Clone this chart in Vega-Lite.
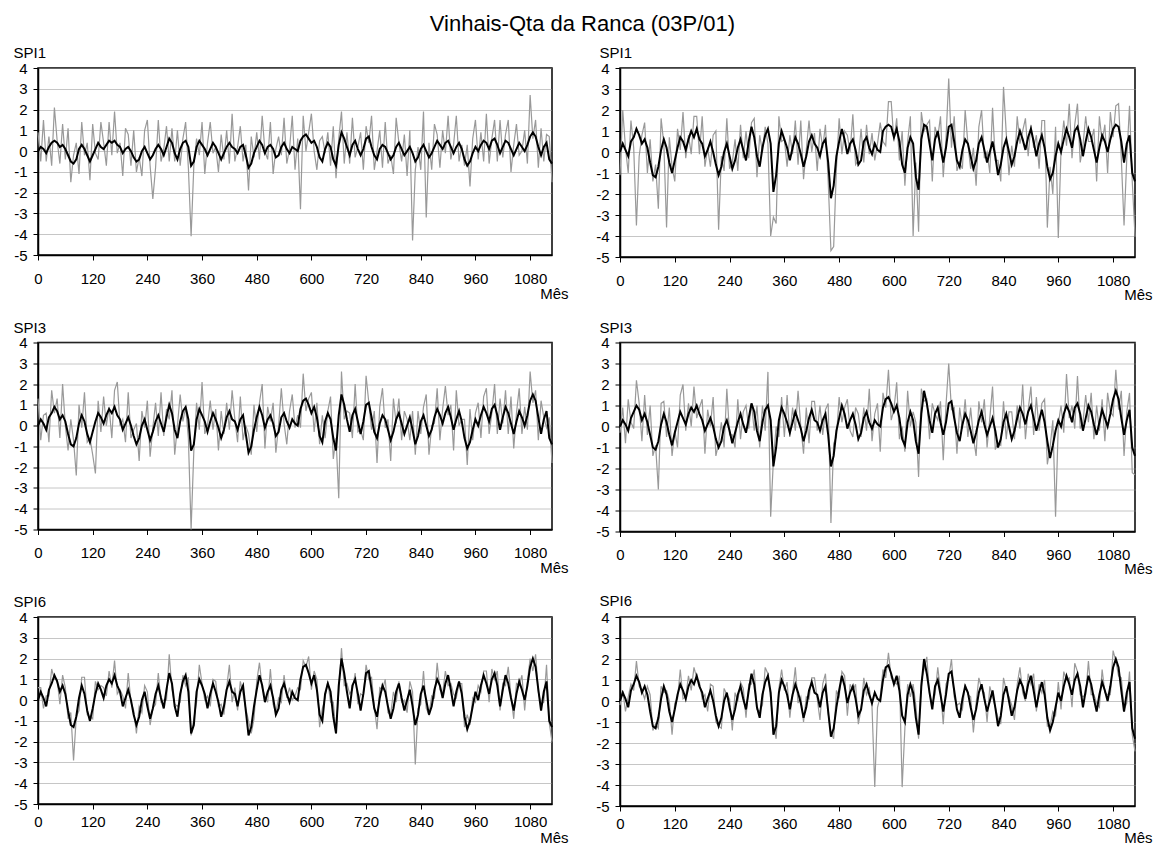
{
"$schema":"https://vega.github.io/schema/vega-lite/v6.json",
"padding":{"left":12,"top":13,"right":0,"bottom":0},
"background":"white",
"title":{"text":"Vinhais-Qta da Ranca (03P/01)","font":"Liberation Sans","fontSize":22,"fontWeight":"normal","color":"black","anchor":"middle","offset":8},
"data":{"values":[
{"m":0,"a":0.9,"b":0,"c":-1.1,"d":0,"e":1.3,"f":0,"g":-0.3,"h":0,"i":0.6,"j":0,"k":-0.2,"l":0},
{"m":6,"a":-0.5,"b":0.2,"c":2.0,"d":0.4,"e":-0.7,"f":0.3,"g":0.9,"h":0.3,"i":0.6,"j":0.4,"k":0.5,"l":0.4},
{"m":12,"a":1.5,"b":0.1,"c":0.2,"d":0.1,"e":0.5,"f":0.1,"g":-0.8,"h":0.1,"i":-0.4,"j":0.1,"k":-0.5,"l":0.1},
{"m":18,"a":-0.5,"b":-0.1,"c":-1.0,"d":-0.2,"e":0.6,"f":-0.2,"g":1.3,"h":-0.2,"i":0.2,"j":-0.3,"k":0.2,"l":-0.3},
{"m":24,"a":0.7,"b":0.2,"c":1.5,"d":0.5,"e":-0.8,"f":0.4,"g":0.2,"h":0.4,"i":0.2,"j":0.5,"k":0.8,"l":0.5},
{"m":30,"a":-0.7,"b":0.4,"c":0.2,"d":0.7,"e":1.7,"f":0.6,"g":-0.1,"h":0.7,"i":1.5,"j":0.8,"k":0.5,"l":0.8},
{"m":36,"a":2.1,"b":0.5,"c":-3.5,"d":1.1,"e":0.6,"f":0.9,"g":2.2,"h":1.0,"i":1.0,"j":1.2,"k":1.9,"l":1.2},
{"m":42,"a":0.5,"b":0.4,"c":-0.2,"d":0.8,"e":1.3,"f":0.7,"g":1.1,"h":0.8,"i":1.0,"j":0.9,"k":0.7,"l":0.9},
{"m":48,"a":-0.6,"b":0.2,"c":0.8,"d":0.4,"e":-0.6,"f":0.3,"g":-0.7,"h":0.3,"i":-0.2,"j":0.4,"k":0.5,"l":0.4},
{"m":54,"a":1.3,"b":0.3,"c":1.4,"d":0.6,"e":2.0,"f":0.5,"g":1.5,"h":0.6,"i":1.2,"j":0.7,"k":0.1,"l":0.7},
{"m":60,"a":-0.4,"b":0.1,"c":-1.0,"d":0.2,"e":0.0,"f":0.2,"g":-0.4,"h":0.2,"i":0.6,"j":0.3,"k":0.7,"l":0.3},
{"m":66,"a":1.1,"b":-0.2,"c":0.6,"d":-0.5,"e":-1.2,"f":-0.4,"g":1.0,"h":-0.4,"i":-0.9,"j":-0.5,"k":0.3,"l":-0.5},
{"m":72,"a":-1.5,"b":-0.5,"c":-1.4,"d":-1.1,"e":0.3,"f":-0.9,"g":-1.4,"h":-1.0,"i":-0.6,"j":-1.2,"k":-1.4,"l":-1.2},
{"m":78,"a":-0.2,"b":-0.6,"c":-0.6,"d":-1.2,"e":-0.7,"f":-1.0,"g":-0.9,"h":-1.1,"i":-2.9,"j":-1.3,"k":-1.1,"l":-1.3},
{"m":84,"a":0.4,"b":-0.4,"c":-2.7,"d":-0.7,"e":-2.4,"f":-0.6,"g":-3.0,"h":-0.7,"i":-0.8,"j":-0.8,"k":-1.3,"l":-0.8},
{"m":90,"a":-1.1,"b":0.1,"c":1.6,"d":0.1,"e":1.0,"f":0.1,"g":1.1,"h":0.1,"i":-0.5,"j":0.1,"k":0.7,"l":0.1},
{"m":96,"a":1.4,"b":0.3,"c":0.4,"d":0.6,"e":-0.1,"f":0.5,"g":1.2,"h":0.6,"i":1.1,"j":0.7,"k":0.4,"l":0.7},
{"m":102,"a":-0.2,"b":0.1,"c":-3.6,"d":0.2,"e":1.6,"f":0.2,"g":-0.5,"h":0.2,"i":1.1,"j":0.3,"k":0.5,"l":0.3},
{"m":108,"a":0.4,"b":-0.2,"c":0.7,"d":-0.5,"e":-0.8,"f":-0.4,"g":0.9,"h":-0.4,"i":-0.7,"j":-0.5,"k":0.0,"l":-0.5},
{"m":114,"a":-1.4,"b":-0.5,"c":-0.7,"d":-1.0,"e":-0.6,"f":-0.8,"g":-1.4,"h":-0.9,"i":-0.8,"j":-1.0,"k":-1.6,"l":-1.0},
{"m":120,"a":1.3,"b":-0.2,"c":-1.4,"d":-0.4,"e":-1.4,"f":-0.3,"g":-0.2,"h":-0.3,"i":-0.9,"j":-0.4,"k":-0.1,"l":-0.4},
{"m":126,"a":-0.1,"b":0.1,"c":1.1,"d":0.2,"e":-2.3,"f":0.2,"g":-1.0,"h":0.2,"i":0.9,"j":0.3,"k":0.1,"l":0.3},
{"m":132,"a":-0.4,"b":0.4,"c":0.1,"d":0.7,"e":1.2,"f":0.6,"g":1.5,"h":0.7,"i":0.5,"j":0.8,"k":1.5,"l":0.8},
{"m":138,"a":1.4,"b":0.2,"c":1.9,"d":0.5,"e":-0.3,"f":0.4,"g":2.0,"h":0.4,"i":0.7,"j":0.5,"k":0.1,"l":0.5},
{"m":144,"a":0.4,"b":0.1,"c":-0.3,"d":0.1,"e":1.4,"f":0.1,"g":-0.2,"h":0.1,"i":0.6,"j":0.1,"k":0.2,"l":0.1},
{"m":150,"a":-0.7,"b":0.3,"c":0.8,"d":0.6,"e":0.0,"f":0.5,"g":1.1,"h":0.6,"i":0.2,"j":0.7,"k":1.2,"l":0.7},
{"m":156,"a":1.4,"b":0.5,"c":-0.1,"d":1.0,"e":0.9,"f":0.8,"g":0.0,"h":0.9,"i":1.4,"j":1.0,"k":0.5,"l":1.0},
{"m":162,"a":-0.2,"b":0.4,"c":1.7,"d":0.7,"e":-0.6,"f":0.6,"g":1.9,"h":0.7,"i":0.6,"j":0.8,"k":1.6,"l":0.8},
{"m":168,"a":1.9,"b":0.5,"c":1.7,"d":1.1,"e":1.7,"f":0.9,"g":0.4,"h":1.0,"i":1.9,"j":1.2,"k":1.1,"l":1.2},
{"m":174,"a":-0.1,"b":0.3,"c":-0.1,"d":0.6,"e":2.1,"f":0.5,"g":0.9,"h":0.6,"i":0.3,"j":0.7,"k":0.9,"l":0.7},
{"m":180,"a":0.4,"b":0.2,"c":1.7,"d":0.4,"e":0.0,"f":0.3,"g":1.3,"h":0.3,"i":0.5,"j":0.4,"k":0.1,"l":0.4},
{"m":186,"a":-1.2,"b":-0.1,"c":-0.7,"d":-0.2,"e":0.3,"f":-0.2,"g":-1.3,"h":-0.2,"i":0.2,"j":-0.3,"k":0.3,"l":-0.3},
{"m":192,"a":1.1,"b":0.1,"c":0.2,"d":0.1,"e":-0.8,"f":0.1,"g":0.8,"h":0.1,"i":-0.4,"j":0.1,"k":-0.5,"l":0.1},
{"m":198,"a":0.8,"b":0.2,"c":-0.7,"d":0.5,"e":1.6,"f":0.4,"g":0.0,"h":0.4,"i":1.3,"j":0.5,"k":0.8,"l":0.5},
{"m":204,"a":-0.7,"b":0,"c":0.8,"d":0,"e":-0.6,"f":0,"g":1.4,"h":0,"i":-0.1,"j":0,"k":0.7,"l":0},
{"m":210,"a":1.0,"b":-0.3,"c":1.0,"d":-0.6,"e":-0.2,"f":-0.5,"g":-1.4,"h":-0.6,"i":-0.5,"j":-0.7,"k":-1.0,"l":-0.7},
{"m":216,"a":-1.0,"b":-0.5,"c":-3.7,"d":-1.1,"e":0.1,"f":-0.9,"g":-0.8,"h":-1.0,"i":-1.6,"j":-1.2,"k":-1.2,"l":-1.2},
{"m":222,"a":-0.3,"b":-0.4,"c":-0.2,"d":-0.7,"e":-1.7,"f":-0.6,"g":0.2,"h":-0.7,"i":-0.3,"j":-0.8,"k":-1.3,"l":-0.8},
{"m":228,"a":-1.2,"b":0,"c":-0.9,"d":0,"e":0.7,"f":0,"g":-1.0,"h":0,"i":-0.6,"j":0,"k":0.6,"l":0},
{"m":234,"a":1.0,"b":0.2,"c":1.6,"d":0.4,"e":-0.1,"f":0.3,"g":1.8,"h":0.3,"i":0.7,"j":0.4,"k":0.3,"l":0.4},
{"m":240,"a":1.5,"b":-0.1,"c":-0.8,"d":-0.2,"e":1.2,"f":-0.2,"g":-0.4,"h":-0.2,"i":0.4,"j":-0.3,"k":0.1,"l":-0.3},
{"m":246,"a":-0.7,"b":-0.4,"c":-0.5,"d":-0.8,"e":-1.5,"f":-0.7,"g":-0.4,"h":-0.8,"i":-1.2,"j":-0.9,"k":-1.4,"l":-0.9},
{"m":252,"a":-2.3,"b":-0.2,"c":0.6,"d":-0.4,"e":-0.1,"f":-0.3,"g":-1.0,"h":-0.3,"i":-0.4,"j":-0.4,"k":0.4,"l":-0.4},
{"m":258,"a":-0.8,"b":0.1,"c":-0.9,"d":0.2,"e":1.1,"f":0.2,"g":1.3,"h":0.2,"i":-0.2,"j":0.3,"k":0.0,"l":0.3},
{"m":264,"a":1.5,"b":0.3,"c":1.3,"d":0.6,"e":-0.5,"f":0.5,"g":-0.6,"h":0.6,"i":1.3,"j":0.7,"k":0.9,"l":0.7},
{"m":270,"a":-0.5,"b":0.1,"c":-0.3,"d":0.1,"e":1.6,"f":0.1,"g":0.7,"h":0.1,"i":-0.1,"j":0.1,"k":0.6,"l":0.1},
{"m":276,"a":0.1,"b":-0.2,"c":1.0,"d":-0.4,"e":-0.5,"f":-0.3,"g":1.0,"h":-0.3,"i":0.0,"j":-0.4,"k":-0.8,"l":-0.4},
{"m":282,"a":1.2,"b":0.2,"c":-0.3,"d":0.5,"e":0.8,"f":0.4,"g":-0.1,"h":0.4,"i":0.0,"j":0.5,"k":0.8,"l":0.5},
{"m":288,"a":-0.5,"b":0.6,"c":1.4,"d":1.2,"e":0.3,"f":1.0,"g":1.1,"h":1.1,"i":2.2,"j":1.3,"k":0.8,"l":1.3},
{"m":294,"a":1.1,"b":0.4,"c":1.6,"d":0.7,"e":1.7,"f":0.6,"g":-0.2,"h":0.7,"i":0.5,"j":0.8,"k":1.5,"l":0.8},
{"m":300,"a":-0.5,"b":-0.1,"c":-1.2,"d":-0.2,"e":-1.4,"f":-0.2,"g":1.0,"h":-0.2,"i":-0.2,"j":-0.3,"k":-0.4,"l":-0.3},
{"m":306,"a":1.0,"b":-0.4,"c":0.8,"d":-0.7,"e":0.0,"f":-0.6,"g":-1.0,"h":-0.7,"i":-0.3,"j":-0.8,"k":-0.5,"l":-0.8},
{"m":312,"a":-0.7,"b":0.1,"c":0.0,"d":0.2,"e":1.5,"f":0.2,"g":1.0,"h":0.2,"i":-0.1,"j":0.3,"k":-0.2,"l":0.3},
{"m":318,"a":0.6,"b":0.4,"c":1.2,"d":0.8,"e":0.2,"f":0.7,"g":-0.2,"h":0.8,"i":1.2,"j":0.9,"k":1.6,"l":0.9},
{"m":324,"a":1.4,"b":0.5,"c":0.4,"d":1.1,"e":0.9,"f":0.9,"g":2.6,"h":1.0,"i":0.7,"j":1.2,"k":1.3,"l":1.2},
{"m":330,"a":-0.8,"b":0.2,"c":-4.0,"d":0.4,"e":-0.6,"f":0.3,"g":-4.3,"h":0.3,"i":1.1,"j":0.4,"k":0.1,"l":0.4},
{"m":336,"a":-4.1,"b":-0.7,"c":-3.1,"d":-1.9,"e":-5.0,"f":-1.2,"g":-1.6,"h":-1.9,"i":-1.7,"j":-1.6,"k":-1.1,"l":-1.6},
{"m":342,"a":-0.7,"b":-0.5,"c":-3.4,"d":-1.1,"e":-1.2,"f":-0.9,"g":0.0,"h":-1.0,"i":-0.9,"j":-1.2,"k":-1.8,"l":-1.2},
{"m":348,"a":0.6,"b":0.2,"c":1.7,"d":0.4,"e":1.1,"f":0.3,"g":-0.5,"h":0.3,"i":-0.1,"j":0.4,"k":0.6,"l":0.4},
{"m":354,"a":-0.2,"b":0.5,"c":0.5,"d":1.0,"e":-0.2,"f":0.8,"g":1.4,"h":0.9,"i":1.7,"j":1.0,"k":1.5,"l":1.0},
{"m":360,"a":1.4,"b":0.3,"c":0.6,"d":0.6,"e":2.1,"f":0.5,"g":-0.5,"h":0.6,"i":0.8,"j":0.7,"k":0.5,"l":0.7},
{"m":366,"a":-1.1,"b":0.1,"c":-0.7,"d":0.2,"e":-0.4,"f":0.2,"g":1.5,"h":0.2,"i":0.0,"j":0.3,"k":0.9,"l":0.3},
{"m":372,"a":0.4,"b":-0.2,"c":0.8,"d":-0.4,"e":0.0,"f":-0.3,"g":-0.5,"h":-0.3,"i":0.2,"j":-0.4,"k":-0.8,"l":-0.4},
{"m":378,"a":1.4,"b":0.1,"c":-0.1,"d":0.2,"e":1.2,"f":0.2,"g":0.9,"h":0.2,"i":-0.3,"j":0.3,"k":0.4,"l":0.3},
{"m":384,"a":-0.1,"b":0.4,"c":1.5,"d":0.7,"e":-0.2,"f":0.6,"g":-0.2,"h":0.7,"i":1.0,"j":0.8,"k":1.6,"l":0.8},
{"m":390,"a":0.2,"b":0.2,"c":-0.6,"d":0.4,"e":0.8,"f":0.3,"g":1.7,"h":0.3,"i":0.9,"j":0.4,"k":-0.1,"l":0.4},
{"m":396,"a":-1.0,"b":-0.1,"c":1.5,"d":-0.1,"e":-1.2,"f":-0.1,"g":0.0,"h":-0.1,"i":-0.3,"j":-0.1,"k":0.2,"l":-0.1},
{"m":402,"a":0.8,"b":-0.4,"c":-1.3,"d":-0.7,"e":0.7,"f":-0.6,"g":-1.3,"h":-0.7,"i":-0.2,"j":-0.8,"k":-1.0,"l":-0.8},
{"m":408,"a":-0.4,"b":-0.1,"c":0.1,"d":-0.2,"e":-0.4,"f":-0.2,"g":0.9,"h":-0.2,"i":-0.7,"j":-0.3,"k":0.2,"l":-0.3},
{"m":414,"a":1.0,"b":0.2,"c":1.5,"d":0.5,"e":1.1,"f":0.4,"g":-0.8,"h":0.4,"i":0.6,"j":0.5,"k":0.1,"l":0.5},
{"m":420,"a":-0.6,"b":0.4,"c":0.0,"d":0.8,"e":-0.2,"f":0.7,"g":1.2,"h":0.8,"i":1.7,"j":0.9,"k":1.1,"l":0.9},
{"m":426,"a":1.8,"b":0.2,"c":0.9,"d":0.4,"e":1.7,"f":0.3,"g":1.2,"h":0.3,"i":-0.1,"j":0.4,"k":1.1,"l":0.4},
{"m":432,"a":-0.5,"b":0.1,"c":-0.9,"d":0.2,"e":0.3,"f":0.2,"g":-0.2,"h":0.2,"i":0.6,"j":0.3,"k":0.1,"l":0.3},
{"m":438,"a":0.2,"b":-0.1,"c":1.1,"d":-0.2,"e":-0.8,"f":-0.2,"g":1.0,"h":-0.2,"i":-0.5,"j":-0.3,"k":-0.9,"l":-0.3},
{"m":444,"a":1.2,"b":0.2,"c":0.2,"d":0.4,"e":1.4,"f":0.3,"g":-0.4,"h":0.3,"i":0.9,"j":0.4,"k":0.8,"l":0.4},
{"m":450,"a":-0.5,"b":0.3,"c":1.3,"d":0.6,"e":-0.7,"f":0.5,"g":0.8,"h":0.6,"i":0.3,"j":0.7,"k":1.3,"l":0.7},
{"m":456,"a":0.3,"b":-0.2,"c":-1.4,"d":-0.5,"e":0.0,"f":-0.4,"g":1.1,"h":-0.4,"i":-0.4,"j":-0.5,"k":-0.6,"l":-0.5},
{"m":462,"a":-1.9,"b":-0.8,"c":-4.7,"d":-2.2,"e":-0.4,"f":-1.3,"g":-4.6,"h":-1.9,"i":-1.0,"j":-1.7,"k":-1.5,"l":-1.7},
{"m":468,"a":0.7,"b":-0.6,"c":-4.5,"d":-1.6,"e":-1.4,"f":-1.0,"g":-0.8,"h":-1.4,"i":-1.6,"j":-1.3,"k":-1.8,"l":-1.3},
{"m":474,"a":-0.3,"b":-0.1,"c":-0.8,"d":-0.2,"e":1.0,"f":-0.2,"g":-0.5,"h":-0.2,"i":-0.9,"j":-0.3,"k":0.5,"l":-0.3},
{"m":480,"a":0.9,"b":0.2,"c":1.6,"d":0.5,"e":-0.3,"f":0.4,"g":1.4,"h":0.4,"i":0.9,"j":0.5,"k":0.2,"l":0.5},
{"m":486,"a":-0.4,"b":0.5,"c":-0.1,"d":1.1,"e":1.1,"f":0.9,"g":0.2,"h":1.0,"i":1.8,"j":1.2,"k":1.4,"l":1.2},
{"m":492,"a":1.7,"b":0.3,"c":1.0,"d":0.6,"e":2.0,"f":0.5,"g":0.9,"h":0.6,"i":0.6,"j":0.7,"k":1.2,"l":0.7},
{"m":498,"a":0.0,"b":-0.1,"c":0.8,"d":-0.1,"e":-1.1,"f":-0.1,"g":1.3,"h":-0.1,"i":0.2,"j":-0.1,"k":-0.7,"l":-0.1},
{"m":504,"a":-0.4,"b":0.2,"c":0.0,"d":0.4,"e":0.9,"f":0.3,"g":-0.2,"h":0.3,"i":-0.1,"j":0.4,"k":0.8,"l":0.4},
{"m":510,"a":1.4,"b":0.3,"c":1.8,"d":0.6,"e":0.2,"f":0.5,"g":-0.5,"h":0.6,"i":1.5,"j":0.7,"k":0.5,"l":0.7},
{"m":516,"a":-1.1,"b":0.1,"c":-0.6,"d":0.1,"e":1.1,"f":0.1,"g":0.9,"h":0.1,"i":-0.2,"j":0.1,"k":0.8,"l":0.1},
{"m":522,"a":0.1,"b":-0.3,"c":-0.4,"d":-0.6,"e":-1.3,"f":-0.5,"g":0.6,"h":-0.6,"i":-0.6,"j":-0.7,"k":-1.1,"l":-0.7},
{"m":528,"a":0.7,"b":-0.2,"c":1.1,"d":-0.4,"e":0.0,"f":-0.3,"g":-0.5,"h":-0.3,"i":0.1,"j":-0.4,"k":-0.4,"l":-0.4},
{"m":534,"a":-0.2,"b":0.2,"c":-0.5,"d":0.5,"e":1.8,"f":0.4,"g":0.9,"h":0.4,"i":-0.1,"j":0.5,"k":1.1,"l":0.5},
{"m":540,"a":1.6,"b":0.4,"c":1.3,"d":0.7,"e":0.1,"f":0.6,"g":-0.2,"h":0.7,"i":1.2,"j":0.8,"k":0.3,"l":0.8},
{"m":546,"a":-0.6,"b":0.1,"c":-0.1,"d":0.2,"e":-0.9,"f":0.2,"g":1.8,"h":0.2,"i":0.1,"j":0.3,"k":0.6,"l":0.3},
{"m":552,"a":0.1,"b":-0.1,"c":0.9,"d":-0.1,"e":0.7,"f":-0.1,"g":-0.7,"h":-0.1,"i":0.6,"j":-0.1,"k":-0.3,"l":-0.1},
{"m":558,"a":1.7,"b":0.2,"c":-0.4,"d":0.4,"e":1.5,"f":0.3,"g":0.6,"h":0.3,"i":0.0,"j":0.4,"k":-4.1,"l":0.4},
{"m":564,"a":-0.9,"b":0.1,"c":0.4,"d":0.1,"e":-0.1,"f":0.1,"g":1.1,"h":0.1,"i":0.2,"j":0.1,"k":-0.3,"l":0.1},
{"m":570,"a":0.6,"b":0,"c":1.4,"d":0,"e":0.5,"f":0,"g":-1.2,"h":0,"i":0.6,"j":0,"k":0.2,"l":0},
{"m":576,"a":-2.8,"b":0.5,"c":0.5,"d":1.0,"e":-0.1,"f":0.8,"g":1.6,"h":0.9,"i":0.5,"j":1.0,"k":1.5,"l":1.0},
{"m":582,"a":1.7,"b":0.7,"c":0.3,"d":1.2,"e":2.5,"f":1.2,"g":0.9,"h":1.3,"i":1.9,"j":1.6,"k":1.1,"l":1.6},
{"m":588,"a":0.0,"b":0.8,"c":2.4,"d":1.3,"e":0.7,"f":1.3,"g":2.7,"h":1.4,"i":1.6,"j":1.7,"k":2.3,"l":1.7},
{"m":594,"a":0.9,"b":0.6,"c":2.4,"d":1.2,"e":1.3,"f":1.0,"g":0.3,"h":1.1,"i":2.1,"j":1.3,"k":1.1,"l":1.3},
{"m":600,"a":1.8,"b":0.4,"c":0.5,"d":0.7,"e":1.6,"f":0.6,"g":0.8,"h":0.7,"i":0.5,"j":0.8,"k":0.9,"l":0.8},
{"m":606,"a":0.0,"b":0.5,"c":1.6,"d":1.1,"e":-0.3,"f":0.9,"g":2.1,"h":1.0,"i":1.4,"j":1.2,"k":0.8,"l":1.2},
{"m":612,"a":-0.9,"b":0.2,"c":-0.4,"d":0.5,"e":1.1,"f":0.4,"g":-0.6,"h":0.4,"i":1.0,"j":0.5,"k":1.2,"l":0.5},
{"m":618,"a":0.5,"b":-0.3,"c":1.0,"d":-0.6,"e":-0.9,"f":-0.5,"g":0.0,"h":-0.6,"i":-1.3,"j":-0.7,"k":-4.1,"l":-0.7},
{"m":624,"a":0.7,"b":-0.5,"c":-1.6,"d":-1.0,"e":0.5,"f":-0.8,"g":-1.2,"h":-0.9,"i":-0.4,"j":-1.0,"k":-1.3,"l":-1.0},
{"m":630,"a":-0.1,"b":0.1,"c":0.5,"d":0.2,"e":-0.6,"f":0.2,"g":1.7,"h":0.2,"i":0.1,"j":0.3,"k":0.8,"l":0.3},
{"m":636,"a":0.9,"b":0.4,"c":1.7,"d":0.7,"e":0.7,"f":0.6,"g":0.0,"h":0.7,"i":0.9,"j":0.8,"k":0.2,"l":0.8},
{"m":642,"a":-0.7,"b":0.2,"c":-4.0,"d":0.4,"e":1.4,"f":0.3,"g":0.7,"h":0.3,"i":-0.1,"j":0.4,"k":0.8,"l":0.4},
{"m":648,"a":1.2,"b":-0.4,"c":-0.5,"d":-1.2,"e":-1.6,"f":-0.6,"g":0.2,"h":-0.7,"i":-0.1,"j":-0.8,"k":-0.2,"l":-0.8},
{"m":654,"a":-1.3,"b":-0.7,"c":-3.8,"d":-1.8,"e":-0.6,"f":-1.2,"g":-2.4,"h":-1.3,"i":-1.6,"j":-1.6,"k":-1.8,"l":-1.6},
{"m":660,"a":0.6,"b":0.3,"c":1.9,"d":0.6,"e":-3.5,"f":0.5,"g":1.8,"h":0.6,"i":0.4,"j":0.7,"k":1.0,"l":0.7},
{"m":666,"a":1.9,"b":0.9,"c":1.0,"d":1.3,"e":2.6,"f":1.5,"g":1.2,"h":1.7,"i":2.5,"j":2.0,"k":1.5,"l":2.0},
{"m":672,"a":-0.6,"b":0.6,"c":1.3,"d":1.2,"e":0.3,"f":1.0,"g":1.3,"h":1.1,"i":0.7,"j":1.3,"k":2.1,"l":1.3},
{"m":678,"a":0.9,"b":0.2,"c":1.5,"d":0.4,"e":0.7,"f":0.3,"g":-0.6,"h":0.3,"i":0.8,"j":0.4,"k":0.3,"l":0.4},
{"m":684,"a":-0.6,"b":-0.2,"c":-1.4,"d":-0.4,"e":0.6,"f":-0.3,"g":1.1,"h":-0.3,"i":0.3,"j":-0.4,"k":-0.1,"l":-0.4},
{"m":690,"a":1.6,"b":0.3,"c":1.2,"d":0.6,"e":-0.6,"f":0.5,"g":0.6,"h":0.6,"i":0.5,"j":0.7,"k":0.3,"l":0.7},
{"m":696,"a":-0.3,"b":0.5,"c":0.7,"d":1.0,"e":2.0,"f":0.8,"g":0.3,"h":0.9,"i":1.3,"j":1.0,"k":1.6,"l":1.0},
{"m":702,"a":0.2,"b":0.1,"c":1.7,"d":0.2,"e":-0.3,"f":0.2,"g":1.2,"h":0.2,"i":-0.2,"j":0.3,"k":0.5,"l":0.3},
{"m":708,"a":0.9,"b":-0.2,"c":-1.2,"d":-0.5,"e":-0.2,"f":-0.4,"g":-1.6,"h":-0.4,"i":0.3,"j":-0.5,"k":-1.1,"l":-0.5},
{"m":714,"a":-0.9,"b":0.1,"c":0.6,"d":0.2,"e":-0.7,"f":0.2,"g":1.0,"h":0.2,"i":0.2,"j":0.3,"k":0.8,"l":0.3},
{"m":720,"a":1.2,"b":0.6,"c":3.5,"d":1.2,"e":2.4,"f":1.0,"g":3.0,"h":1.1,"i":1.7,"j":1.3,"k":1.1,"l":1.3},
{"m":726,"a":0.4,"b":0.7,"c":0.2,"d":1.3,"e":1.1,"f":1.1,"g":0.8,"h":1.2,"i":1.0,"j":1.4,"k":2.0,"l":1.4},
{"m":732,"a":1.7,"b":0.2,"c":1.7,"d":0.5,"e":-0.2,"f":0.4,"g":0.9,"h":0.4,"i":1.1,"j":0.5,"k":0.2,"l":0.5},
{"m":738,"a":-0.9,"b":-0.2,"c":-0.9,"d":-0.4,"e":0.7,"f":-0.3,"g":-1.3,"h":-0.3,"i":-0.3,"j":-0.4,"k":-0.2,"l":-0.4},
{"m":744,"a":0.0,"b":-0.4,"c":-0.5,"d":-0.7,"e":-1.8,"f":-0.6,"g":0.9,"h":-0.7,"i":-1.4,"j":-0.8,"k":-0.1,"l":-0.8},
{"m":750,"a":1.0,"b":0.1,"c":-0.8,"d":0.1,"e":0.9,"f":0.1,"g":-0.1,"h":0.1,"i":0.6,"j":0.1,"k":-0.4,"l":0.1},
{"m":756,"a":-0.8,"b":0.3,"c":2.0,"d":0.6,"e":1.8,"f":0.5,"g":1.3,"h":0.6,"i":0.5,"j":0.7,"k":0.8,"l":0.7},
{"m":762,"a":1.4,"b":0.2,"c":0.4,"d":0.4,"e":-0.1,"f":0.3,"g":-0.5,"h":0.3,"i":1.0,"j":0.4,"k":0.3,"l":0.4},
{"m":768,"a":-0.6,"b":-0.1,"c":-0.8,"d":-0.2,"e":0.3,"f":-0.2,"g":0.9,"h":-0.2,"i":-0.6,"j":-0.3,"k":0.2,"l":-0.3},
{"m":774,"a":-0.2,"b":-0.4,"c":0.2,"d":-0.8,"e":-1.7,"f":-0.7,"g":-0.5,"h":-0.8,"i":-0.7,"j":-0.9,"k":-1.5,"l":-0.9},
{"m":780,"a":-1.1,"b":-0.2,"c":-1.6,"d":-0.4,"e":1.3,"f":-0.3,"g":-1.4,"h":-0.3,"i":0.4,"j":-0.4,"k":-0.1,"l":-0.4},
{"m":786,"a":1.6,"b":0.2,"c":1.2,"d":0.4,"e":0.1,"f":0.3,"g":1.2,"h":0.3,"i":-0.1,"j":0.4,"k":1.1,"l":0.4},
{"m":792,"a":0.4,"b":0.4,"c":2.0,"d":0.7,"e":1.3,"f":0.6,"g":0.2,"h":0.7,"i":0.9,"j":0.8,"k":0.6,"l":0.8},
{"m":798,"a":-0.5,"b":0.1,"c":-0.3,"d":0.1,"e":-0.7,"f":0.1,"g":1.3,"h":0.1,"i":-0.1,"j":0.1,"k":0.4,"l":0.1},
{"m":804,"a":0.8,"b":-0.2,"c":0.0,"d":-0.5,"e":0.7,"f":-0.4,"g":-1.0,"h":-0.4,"i":0.0,"j":-0.5,"k":-1.0,"l":-0.5},
{"m":810,"a":-1.2,"b":0,"c":-1.0,"d":0,"e":0.3,"f":0,"g":0.4,"h":0,"i":-0.6,"j":0,"k":0.7,"l":0},
{"m":816,"a":1.0,"b":0.2,"c":2.1,"d":0.5,"e":-0.7,"f":0.4,"g":1.9,"h":0.4,"i":0.9,"j":0.5,"k":0.2,"l":0.5},
{"m":822,"a":-4.3,"b":-0.1,"c":-0.4,"d":-0.2,"e":0.7,"f":-0.2,"g":-1.1,"h":-0.2,"i":0.4,"j":-0.3,"k":-0.3,"l":-0.3},
{"m":828,"a":-0.9,"b":-0.5,"c":-0.4,"d":-1.1,"e":-1.4,"f":-0.9,"g":-0.8,"h":-1.0,"i":-3.1,"j":-1.2,"k":-0.8,"l":-1.2},
{"m":834,"a":0.2,"b":-0.3,"c":-1.4,"d":-0.6,"e":0.7,"f":-0.5,"g":-0.9,"h":-0.6,"i":-0.4,"j":-0.7,"k":-1.1,"l":-0.7},
{"m":840,"a":-0.9,"b":0.1,"c":3.1,"d":0.2,"e":-0.4,"f":0.2,"g":1.2,"h":0.2,"i":-0.2,"j":0.3,"k":1.1,"l":0.3},
{"m":846,"a":1.9,"b":0.3,"c":0.9,"d":0.6,"e":0.9,"f":0.5,"g":-0.6,"h":0.6,"i":1.4,"j":0.7,"k":0.5,"l":0.7},
{"m":852,"a":-3.2,"b":0,"c":-1.1,"d":0,"e":1.5,"f":0,"g":0.7,"h":0,"i":-0.4,"j":0,"k":0.2,"l":0},
{"m":858,"a":0.4,"b":-0.3,"c":0.3,"d":-0.6,"e":-1.4,"f":-0.5,"g":0.7,"h":-0.6,"i":-0.7,"j":-0.7,"k":-0.2,"l":-0.7},
{"m":864,"a":-0.9,"b":-0.1,"c":-0.7,"d":-0.2,"e":0.0,"f":-0.2,"g":-0.6,"h":-0.2,"i":0.2,"j":-0.3,"k":-0.9,"l":-0.3},
{"m":870,"a":1.3,"b":0.2,"c":1.7,"d":0.5,"e":0.1,"f":0.4,"g":1.0,"h":0.4,"i":0.1,"j":0.5,"k":0.8,"l":0.5},
{"m":876,"a":0.8,"b":0.5,"c":0.4,"d":1.0,"e":1.8,"f":0.8,"g":-0.1,"h":0.9,"i":1.8,"j":1.0,"k":1.6,"l":1.0},
{"m":882,"a":-0.8,"b":0.3,"c":1.0,"d":0.6,"e":-0.7,"f":0.5,"g":2.0,"h":0.6,"i":0.5,"j":0.7,"k":0.4,"l":0.7},
{"m":888,"a":1.0,"b":0.1,"c":1.6,"d":0.1,"e":0.8,"f":0.1,"g":-0.6,"h":0.1,"i":0.3,"j":0.1,"k":0.0,"l":0.1},
{"m":894,"a":-0.1,"b":0.4,"c":-0.2,"d":0.7,"e":1.9,"f":0.6,"g":0.8,"h":0.7,"i":1.4,"j":0.8,"k":1.3,"l":0.8},
{"m":900,"a":1.7,"b":0.5,"c":1.3,"d":1.1,"e":0.5,"f":0.9,"g":1.9,"h":1.0,"i":0.7,"j":1.2,"k":0.8,"l":1.2},
{"m":906,"a":-0.4,"b":0.2,"c":0.2,"d":0.5,"e":1.0,"f":0.4,"g":-0.4,"h":0.4,"i":0.8,"j":0.5,"k":1.3,"l":0.5},
{"m":912,"a":0.3,"b":-0.1,"c":0.8,"d":-0.2,"e":-1.2,"f":-0.2,"g":1.4,"h":-0.2,"i":0.3,"j":-0.3,"k":-0.5,"l":-0.3},
{"m":918,"a":1.7,"b":0.2,"c":-0.8,"d":0.4,"e":1.7,"f":0.3,"g":-0.2,"h":0.3,"i":0.1,"j":0.4,"k":0.8,"l":0.4},
{"m":924,"a":-0.5,"b":0.4,"c":1.5,"d":0.8,"e":0.0,"f":0.7,"g":1.1,"h":0.8,"i":0.8,"j":0.9,"k":0.4,"l":0.9},
{"m":930,"a":0.3,"b":0.1,"c":1.5,"d":0.2,"e":0.3,"f":0.2,"g":1.3,"h":0.2,"i":0.8,"j":0.3,"k":1.0,"l":0.3},
{"m":936,"a":-0.7,"b":-0.4,"c":-3.6,"d":-0.7,"e":0.3,"f":-0.6,"g":-1.8,"h":-0.7,"i":-1.3,"j":-0.8,"k":-1.2,"l":-0.8},
{"m":942,"a":0.3,"b":-0.7,"c":-0.7,"d":-1.3,"e":-1.9,"f":-1.1,"g":-1.0,"h":-1.5,"i":-0.7,"j":-1.4,"k":-1.2,"l":-1.4},
{"m":948,"a":-1.7,"b":-0.5,"c":-2.0,"d":-1.0,"e":0.8,"f":-0.8,"g":0.3,"h":-0.9,"i":-1.2,"j":-1.0,"k":-0.5,"l":-1.0},
{"m":954,"a":0.6,"b":-0.1,"c":1.2,"d":-0.2,"e":-0.7,"f":-0.2,"g":-4.3,"h":-0.2,"i":0.1,"j":-0.3,"k":-0.7,"l":-0.3},
{"m":960,"a":1.5,"b":0.2,"c":-4.1,"d":0.4,"e":0.6,"f":0.3,"g":0.1,"h":0.3,"i":-0.1,"j":0.4,"k":0.9,"l":0.4},
{"m":966,"a":-0.4,"b":0,"c":0.1,"d":0,"e":1.1,"f":0,"g":1.0,"h":0,"i":0.7,"j":0,"k":-0.4,"l":0},
{"m":972,"a":0.9,"b":0.3,"c":1.5,"d":0.6,"e":-0.6,"f":0.5,"g":-0.3,"h":0.6,"i":0.4,"j":0.7,"k":1.4,"l":0.7},
{"m":978,"a":-0.5,"b":0.5,"c":0.3,"d":1.1,"e":1.4,"f":0.9,"g":2.5,"h":1.0,"i":1.4,"j":1.2,"k":1.0,"l":1.2},
{"m":984,"a":1.8,"b":0.4,"c":2.3,"d":0.7,"e":1.8,"f":0.6,"g":0.4,"h":0.7,"i":1.4,"j":0.8,"k":1.1,"l":0.8},
{"m":990,"a":-0.6,"b":0.1,"c":-0.3,"d":0.2,"e":-0.4,"f":0.2,"g":1.0,"h":0.2,"i":-0.1,"j":0.3,"k":-0.3,"l":0.3},
{"m":996,"a":0.6,"b":0.5,"c":1.3,"d":1.0,"e":0.6,"f":0.8,"g":-0.1,"h":0.9,"i":1.5,"j":1.0,"k":1.8,"l":1.0},
{"m":1002,"a":1.5,"b":0.6,"c":2.3,"d":1.2,"e":2.0,"f":1.0,"g":2.4,"h":1.1,"i":1.0,"j":1.3,"k":1.4,"l":1.3},
{"m":1008,"a":-0.5,"b":0.3,"c":-0.5,"d":0.6,"e":-0.4,"f":0.5,"g":-0.1,"h":0.6,"i":1.4,"j":0.7,"k":0.3,"l":0.7},
{"m":1014,"a":1.5,"b":-0.1,"c":0.3,"d":-0.2,"e":1.3,"f":-0.2,"g":0.2,"h":-0.2,"i":-0.5,"j":-0.3,"k":0.2,"l":-0.3},
{"m":1020,"a":-0.3,"b":0.2,"c":1.7,"d":0.5,"e":0.1,"f":0.4,"g":1.5,"h":0.4,"i":0.8,"j":0.5,"k":0.3,"l":0.5},
{"m":1026,"a":0.8,"b":0.5,"c":0.5,"d":1.1,"e":1.7,"f":0.9,"g":0.2,"h":1.0,"i":0.7,"j":1.2,"k":1.9,"l":1.2},
{"m":1032,"a":1.5,"b":0.4,"c":0.5,"d":0.7,"e":-0.4,"f":0.6,"g":1.6,"h":0.7,"i":1.6,"j":0.8,"k":0.3,"l":0.8},
{"m":1038,"a":-1.0,"b":0.1,"c":1.1,"d":0.1,"e":1.4,"f":0.1,"g":-0.6,"h":0.1,"i":0.2,"j":0.1,"k":0.3,"l":0.1},
{"m":1044,"a":0.3,"b":-0.2,"c":-1.4,"d":-0.5,"e":-1.1,"f":-0.4,"g":1.0,"h":-0.4,"i":-0.9,"j":-0.5,"k":-0.1,"l":-0.5},
{"m":1050,"a":1.3,"b":0.1,"c":1.7,"d":0.2,"e":0.6,"f":0.2,"g":-0.2,"h":0.2,"i":0.8,"j":0.3,"k":-0.3,"l":0.3},
{"m":1056,"a":-0.2,"b":0.4,"c":0.5,"d":0.8,"e":1.8,"f":0.7,"g":1.3,"h":0.8,"i":0.7,"j":0.9,"k":1.5,"l":0.9},
{"m":1062,"a":0.0,"b":0.2,"c":1.3,"d":0.5,"e":-0.4,"f":0.4,"g":-0.7,"h":0.4,"i":1.2,"j":0.5,"k":0.4,"l":0.5},
{"m":1068,"a":1.0,"b":0,"c":-1.0,"d":0,"e":0.9,"f":0,"g":1.6,"h":0,"i":-0.5,"j":0,"k":0.3,"l":0},
{"m":1074,"a":-0.6,"b":0.3,"c":1.9,"d":0.6,"e":-0.2,"f":0.5,"g":0.7,"h":0.6,"i":0.9,"j":0.7,"k":0.3,"l":0.7},
{"m":1080,"a":2.7,"b":0.7,"c":0.7,"d":1.1,"e":2.6,"f":1.2,"g":0.5,"h":1.3,"i":2.0,"j":1.6,"k":2.4,"l":1.6},
{"m":1086,"a":0.6,"b":0.9,"c":2.2,"d":1.3,"e":1.1,"f":1.5,"g":2.7,"h":1.7,"i":1.4,"j":2.0,"k":1.9,"l":2.0},
{"m":1092,"a":1.5,"b":0.7,"c":2.3,"d":1.2,"e":1.7,"f":1.2,"g":0.8,"h":1.3,"i":2.2,"j":1.6,"k":1.2,"l":1.6},
{"m":1098,"a":-0.8,"b":0.2,"c":-0.3,"d":0.5,"e":-0.7,"f":0.4,"g":1.7,"h":0.4,"i":0.4,"j":0.5,"k":1.1,"l":0.5},
{"m":1104,"a":1.1,"b":-0.2,"c":-3.5,"d":-0.5,"e":1.2,"f":-0.4,"g":-1.4,"h":-0.4,"i":-0.2,"j":-0.5,"k":-0.4,"l":-0.5},
{"m":1110,"a":-0.5,"b":0.2,"c":-0.3,"d":0.4,"e":0.4,"f":0.3,"g":0.7,"h":0.3,"i":-0.1,"j":0.4,"k":-0.1,"l":0.4},
{"m":1116,"a":0.8,"b":0.4,"c":2.2,"d":0.8,"e":-0.1,"f":0.7,"g":1.6,"h":0.8,"i":1.7,"j":0.9,"k":1.4,"l":0.9},
{"m":1122,"a":0.7,"b":-0.4,"c":-1.4,"d":-1.0,"e":0.4,"f":-0.6,"g":-2.2,"h":-1.0,"i":-1.1,"j":-1.0,"k":-1.6,"l":-1.3},
{"m":1128,"a":-1.5,"b":-0.6,"c":-4.0,"d":-1.4,"e":-1.8,"f":-0.9,"g":-2.3,"h":-1.4,"i":-2.0,"j":-1.3,"k":-2.4,"l":-1.8}
]},
"hconcat":[
{"vconcat":[
{"width":514,"height":187,"encoding":{"x":{"field":"m","type":"quantitative","scale":{"domain":[0,1128],"nice":false,"zero":false},"axis":{"values":[0,120,240,360,480,600,720,840,960,1080],"labelExpr":"'' + datum.value","title":"Mês","titleX":530,"titleY":43}}},
"layer":[
{"mark":{"type":"line","color":"#999999","strokeWidth":1.2},"encoding":{"y":{"field":"a","type":"quantitative","scale":{"domain":[-5,4],"nice":false},"axis":{"values":[-5,-4,-3,-2,-1,0,1,2,3,4],"labelExpr":"'' + datum.value","title":"SPI1","titleX":-25,"titleY":-11}}}},
{"mark":{"type":"line","color":"black","strokeWidth":2},"encoding":{"y":{"field":"b","type":"quantitative","axis":{"values":[-5,-4,-3,-2,-1,0,1,2,3,4],"labelExpr":"'' + datum.value","title":"SPI1","titleX":-25,"titleY":-11}}}}]},
{"width":514,"height":187,"encoding":{"x":{"field":"m","type":"quantitative","scale":{"domain":[0,1128],"nice":false,"zero":false},"axis":{"values":[0,120,240,360,480,600,720,840,960,1080],"labelExpr":"'' + datum.value","title":"Mês","titleX":530,"titleY":43}}},
"layer":[
{"mark":{"type":"line","color":"#999999","strokeWidth":1.2},"encoding":{"y":{"field":"e","type":"quantitative","scale":{"domain":[-5,4],"nice":false},"axis":{"values":[-5,-4,-3,-2,-1,0,1,2,3,4],"labelExpr":"'' + datum.value","title":"SPI3","titleX":-25,"titleY":-10}}}},
{"mark":{"type":"line","color":"black","strokeWidth":2},"encoding":{"y":{"field":"f","type":"quantitative","axis":{"values":[-5,-4,-3,-2,-1,0,1,2,3,4],"labelExpr":"'' + datum.value","title":"SPI3","titleX":-25,"titleY":-10}}}}]},
{"width":514,"height":187,"encoding":{"x":{"field":"m","type":"quantitative","scale":{"domain":[0,1128],"nice":false,"zero":false},"axis":{"values":[0,120,240,360,480,600,720,840,960,1080],"labelExpr":"'' + datum.value","labelPadding":5,"title":"Mês","titleX":530,"titleY":38}}},
"layer":[
{"mark":{"type":"line","color":"#999999","strokeWidth":1.2},"encoding":{"y":{"field":"i","type":"quantitative","scale":{"domain":[-5,4],"nice":false},"axis":{"values":[-5,-4,-3,-2,-1,0,1,2,3,4],"labelExpr":"'' + datum.value","title":"SPI6","titleX":-25,"titleY":-11}}}},
{"mark":{"type":"line","color":"black","strokeWidth":2},"encoding":{"y":{"field":"j","type":"quantitative","axis":{"values":[-5,-4,-3,-2,-1,0,1,2,3,4],"labelExpr":"'' + datum.value","title":"SPI6","titleX":-25,"titleY":-11}}}}]}
],"spacing":87.5,"bounds":"flush"},
{"vconcat":[
{"width":515,"height":189,"encoding":{"x":{"field":"m","type":"quantitative","scale":{"domain":[0,1128],"nice":false,"zero":false},"axis":{"values":[0,120,240,360,480,600,720,840,960,1080],"labelExpr":"'' + datum.value","title":"Mês","titleX":532,"titleY":42}}},
"layer":[
{"mark":{"type":"line","color":"#999999","strokeWidth":1.2},"encoding":{"y":{"field":"c","type":"quantitative","scale":{"domain":[-5,4],"nice":false},"axis":{"values":[-5,-4,-3,-2,-1,0,1,2,3,4],"labelExpr":"'' + datum.value","title":"SPI1","titleX":-21,"titleY":-11}}}},
{"mark":{"type":"line","color":"black","strokeWidth":2},"encoding":{"y":{"field":"d","type":"quantitative","axis":{"values":[-5,-4,-3,-2,-1,0,1,2,3,4],"labelExpr":"'' + datum.value","title":"SPI1","titleX":-21,"titleY":-11}}}}]},
{"width":515,"height":189,"encoding":{"x":{"field":"m","type":"quantitative","scale":{"domain":[0,1128],"nice":false,"zero":false},"axis":{"values":[0,120,240,360,480,600,720,840,960,1080],"labelExpr":"'' + datum.value","title":"Mês","titleX":532,"titleY":42}}},
"layer":[
{"mark":{"type":"line","color":"#999999","strokeWidth":1.2},"encoding":{"y":{"field":"g","type":"quantitative","scale":{"domain":[-5,4],"nice":false},"axis":{"values":[-5,-4,-3,-2,-1,0,1,2,3,4],"labelExpr":"'' + datum.value","title":"SPI3","titleX":-21,"titleY":-10}}}},
{"mark":{"type":"line","color":"black","strokeWidth":2},"encoding":{"y":{"field":"h","type":"quantitative","axis":{"values":[-5,-4,-3,-2,-1,0,1,2,3,4],"labelExpr":"'' + datum.value","title":"SPI3","titleX":-21,"titleY":-10}}}}]},
{"width":515,"height":189,"encoding":{"x":{"field":"m","type":"quantitative","scale":{"domain":[0,1128],"nice":false,"zero":false},"axis":{"values":[0,120,240,360,480,600,720,840,960,1080],"labelExpr":"'' + datum.value","labelPadding":5,"title":"Mês","titleX":532,"titleY":36}}},
"layer":[
{"mark":{"type":"line","color":"#999999","strokeWidth":1.2},"encoding":{"y":{"field":"k","type":"quantitative","scale":{"domain":[-5,4],"nice":false},"axis":{"values":[-5,-4,-3,-2,-1,0,1,2,3,4],"labelExpr":"'' + datum.value","title":"SPI6","titleX":-21,"titleY":-12}}}},
{"mark":{"type":"line","color":"black","strokeWidth":2},"encoding":{"y":{"field":"l","type":"quantitative","axis":{"values":[-5,-4,-3,-2,-1,0,1,2,3,4],"labelExpr":"'' + datum.value","title":"SPI6","titleX":-21,"titleY":-12}}}}]}
],"spacing":85.5,"bounds":"flush"}
],
"spacing":25,
"config":{
"font":"Liberation Sans",
"view":{"stroke":"black","strokeWidth":1.5},
"axis":{"labelFont":"Liberation Sans","labelFontSize":15,"labelColor":"black","titleFont":"Liberation Sans","titleFontSize":15,"titleFontWeight":"normal","titleColor":"black","domainColor":"black","domainWidth":1.5,"tickColor":"black","tickSize":5,"tickWidth":1,"labelOverlap":false,"labelBound":false},
"axisX":{"grid":false,"labelPadding":11,"labelFlush":false,"titleAlign":"right","titleBaseline":"alphabetic","titleAngle":0},
"axisY":{"grid":true,"gridColor":"#8c8c8c","gridDash":[1,1],"gridWidth":1,"labelPadding":6,"titleAngle":0,"titleAlign":"left","titleBaseline":"alphabetic"}
}
}
